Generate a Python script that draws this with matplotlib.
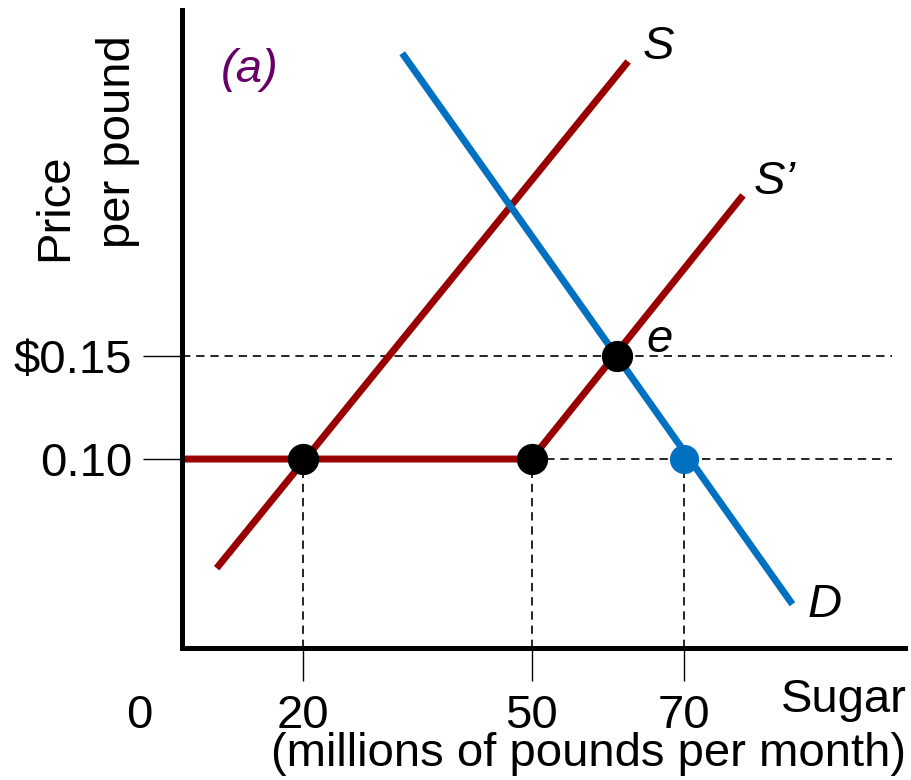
import matplotlib.pyplot as plt

# quantities (millions of pounds per month) and prices ($ per pound)
q_ticks = [20, 50, 70]
p_ticks = [0.10, 0.15]
p_tick_labels = ['0.10', '$0.15']

# supply S
s_q = [8.6, 62.7]
s_p = [0.047, 0.293]
# supply S' (flat at the support price, then rising)
s2_q = [4.05, 50, 77.8]
s2_p = [0.10, 0.10, 0.228]
# demand D
d_q = [33.0, 84.3]
d_p = [0.297, 0.0295]

# marked points
black_q = [20, 50, 61.3]
black_p = [0.10, 0.10, 0.15]
blue_q = [70]
blue_p = [0.10]

red = '#990000'
blue = '#0070c0'
font = 'Liberation Sans'
fs = 34

fig = plt.figure(figsize=(9.11, 7.8), dpi=100)
ax = fig.add_axes([0.1998, 0.1692, 0.7936, 0.818])
ax.set_xlim(4.05, 99.1)
ax.set_ylim(0.00825, 0.318)

for side in ['top', 'right']:
    ax.spines[side].set_visible(False)
for side in ['left', 'bottom']:
    ax.spines[side].set_linewidth(3.6)

dash = (0, (5, 3.5))
# guide lines
ax.plot([ax.get_xlim()[0], 97.4], [0.15, 0.15], color='black', lw=1.2, ls=dash)
ax.plot([50, 97.4], [0.10, 0.10], color='black', lw=1.2, ls=dash)
for qq in q_ticks:
    ax.plot([qq, qq], [ax.get_ylim()[0], 0.10], color='black', lw=1.2, ls=dash)

# curves
ax.plot(s_q, s_p, color=red, lw=5, solid_capstyle='butt')
ax.plot(s2_q, s2_p, color=red, lw=5, solid_capstyle='butt', clip_on=False)
ax.plot(d_q, d_p, color=blue, lw=5, solid_capstyle='butt')

ax.plot(black_q, black_p, 'o', color='black', ms=21.5, zorder=5)
ax.plot(blue_q, blue_p, 'o', color=blue, ms=20, zorder=5)

# ticks
ax.set_xticks(q_ticks)
ax.set_xticklabels([str(v) for v in q_ticks], fontsize=fs, family=font)
ax.set_yticks(p_ticks)
ax.set_yticklabels(p_tick_labels, fontsize=fs, family=font)
ax.tick_params(axis='x', length=24, width=1.0, pad=9)
ax.tick_params(axis='y', length=28, width=1.0, pad=8)

ax.annotate('0', xy=(-1.5, 0), xycoords=('data', 'axes fraction'),
            xytext=(0, -33), textcoords='offset points',
            ha='center', va='top', fontsize=fs, family=font)

# labels
fig.text(0.995, 1 - 700 / 780, 'Sugar', ha='right', va='center', fontsize=fs, family=font)
fig.text(0.995, 1 - 754 / 780, '(millions of pounds per month)', ha='right', va='center',
         fontsize=fs, family=font)
fig.text(55 / 911, 1 - 207 / 780, 'Price', rotation=90, ha='center', va='center',
         fontsize=fs, family=font)
fig.text(118 / 911, 1 - 142 / 780, 'per pound', rotation=90, ha='center', va='center',
         fontsize=fs, family=font)

fig.text(250 / 911, 1 - 70 / 780, '(a)', ha='center', va='center', fontsize=fs,
         family=font, style='italic', color='#660066')
fig.text(658 / 911, 1 - 47 / 780, 'S', ha='center', va='center', fontsize=fs,
         family=font, style='italic')
fig.text(775 / 911, 1 - 182 / 780, "S\u2019", ha='center', va='center', fontsize=fs,
         family=font, style='italic')
fig.text(660 / 911, 1 - 340 / 780, 'e', ha='center', va='center', fontsize=fs,
         family=font, style='italic')
fig.text(825 / 911, 1 - 605 / 780, 'D', ha='center', va='center', fontsize=fs,
         family=font, style='italic')

fig.savefig('out.png', dpi=100)
